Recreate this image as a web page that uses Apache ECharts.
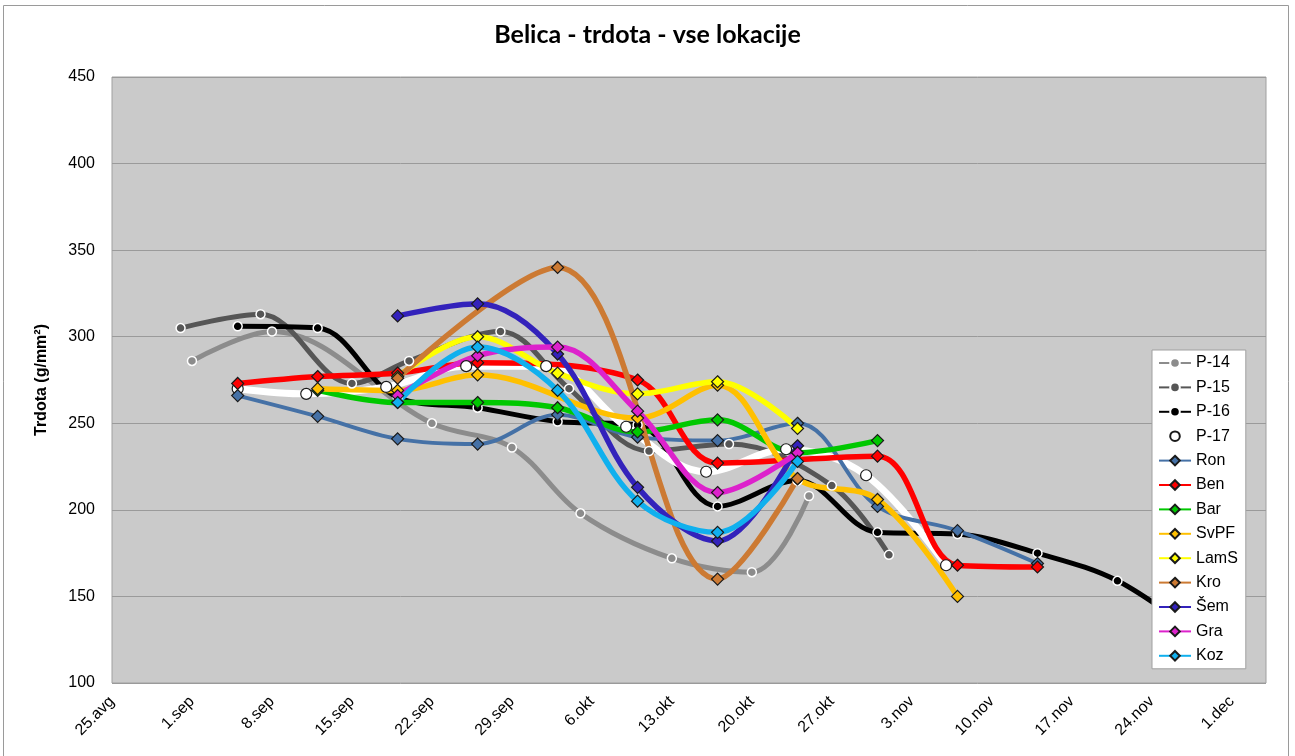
<!DOCTYPE html>
<html>
<head>
<meta charset="utf-8">
<title>Belica - trdota</title>
<script src="https://cdn.jsdelivr.net/npm/echarts/dist/echarts.min.js"></script>
<style>
  html, body { margin: 0; padding: 0; background: #fff; }
  #chart { width: 1295px; height: 756px; }
</style>
</head>
<body>
<div id="chart"></div>
<script>
// x axis: days from 25.avg, one label per week
const xTicks = ['25.avg', '1.sep', '8.sep', '15.sep', '22.sep', '29.sep', '6.okt', '13.okt',
  '20.okt', '27.okt', '3.nov', '10.nov', '17.nov', '24.nov', '1.dec'];

// sampling dates of the locations (month-day)
const weekDates = ['09-05', '09-12', '09-19', '09-26', '10-03', '10-10', '10-17', '10-24', '10-31', '11-07', '11-14'];

const ron  = [266, 254, 241, 238, 255, 242, 240, 250, 202, 188, 169];
const ben  = [273, 277, 279, 285, null, 275, 227, null, 231, 168, 167];
const bar  = [null, 269, 262, 262, 259, 245, 252, 233, 240, null, null];
const svpf = [null, 270, 269, 278, null, 253, 272, 218, 206, 150, null];
const lams = [null, null, 277, 300, 279, 267, 274, 247, null, null, null];
const kro  = [null, null, 276, null, 340, null, 160, 218, null, null, null];
const sem  = [null, null, 312, 319, 290, 213, 182, 237, null, null, null];
const gra  = [null, null, 266, 289, 294, 257, 210, 233, null, null, null];
const koz  = [null, null, 262, 294, 269, 205, 187, 228, null, null, null];

// P- series have their own dates
const p14Dates = ['09-01', '09-08', '09-22', '09-29', '10-05', '10-13', '10-20', '10-25'];
const p14 = [286, 303, 250, 236, 198, 172, 164, 208];
const p15Dates = ['08-31', '09-07', '09-15', '09-20', '09-28', '10-04', '10-11', '10-18', '10-27', '11-01'];
const p15 = [305, 313, 273, 286, 303, 270, 234, 238, 214, 174];
const p16Dates = ['09-05', '09-12', '09-19', '09-26', '10-03', '10-10', '10-17', '10-24', '10-31', '11-07', '11-14', '11-21', '11-28'];
const p16 = [306, 305, 265, 259, 251, 249, 202, 217, 187, 186, 175, 159, 128];
const p17Dates = ['09-05', '09-11', '09-18', '09-25', '10-02', '10-09', '10-16', '10-23', '10-30', '11-06'];
const p17 = [270, 267, 271, 283, 283, 248, 222, 235, 220, 168];

function day(md) {
  let [m, d] = md.split('-').map(Number);
  return (Date.UTC(2011, m - 1, d) - Date.UTC(2011, 7, 25)) / 86400000;
}
function pts(dates, vals) {
  let out = [];
  dates.forEach((d, i) => {
    if (vals[i] != null) out.push([day(d), vals[i]]);
  });
  return out;
}

function circleLine(name, color, data) {
  return {
    name: name, type: 'line', data: data, smooth: 0.35,
    symbol: 'circle', symbolSize: 9,
    lineStyle: { color: color, width: 5 },
    itemStyle: { color: color, borderColor: '#ffffff', borderWidth: 1.5 }
  };
}
function diamondLine(name, color, data, w) {
  return {
    name: name, type: 'line', data: data, smooth: 0.35,
    symbol: 'diamond', symbolSize: 12,
    lineStyle: { color: color, width: w || 5.5 },
    itemStyle: { color: color, borderColor: '#1a1a1a', borderWidth: 1.2 }
  };
}

let p17Series = circleLine('P-17', '#ffffff', pts(p17Dates, p17));
p17Series.symbolSize = 11;
p17Series.lineStyle.width = 7;
p17Series.itemStyle = { color: '#ffffff', borderColor: '#1a1a1a', borderWidth: 1.2 };

let tickDays = xTicks.map((t, i) => i * 7);

let myChart = echarts.init(document.getElementById('chart'));
let option = {
  animation: false,
  backgroundColor: '#ffffff',
  title: {
    text: 'Belica - trdota - vse lokacije',
    left: 'center', top: 17,
    textStyle: { fontFamily: 'Lato', fontWeight: 'bold', fontSize: 25, color: '#000' }
  },
  graphic: [{
    type: 'rect', silent: true,
    shape: { x: 3.5, y: 5.5, width: 1285, height: 770 },
    style: { fill: 'none', stroke: '#9a9a9a', lineWidth: 1 }
  }],
  grid: {
    left: 112, top: 77, right: 29, bottom: 73,
    show: true, backgroundColor: '#cacaca', borderColor: '#a0a0a0', borderWidth: 1
  },
  legend: {
    orient: 'vertical', left: 1152, top: 350,
    itemWidth: 32, itemHeight: 12, itemGap: 8.4,
    padding: [5, 8, 5, 6],
    backgroundColor: '#ffffff', borderColor: '#a0a0a0', borderWidth: 1,
    textStyle: { fontFamily: 'Arial, Liberation Sans', fontSize: 16, color: '#000' },
    data: ['P-14', 'P-15', 'P-16', 'P-17', 'Ron', 'Ben', 'Bar', 'SvPF', 'LamS', 'Kro', 'Šem', 'Gra', 'Koz']
  },
  xAxis: {
    type: 'value', min: 0, max: 101,
    axisLine: { show: false },
    axisTick: { show: false },
    splitLine: { show: false },
    axisLabel: {
      customValues: tickDays,
      rotate: 45, margin: 16,
      fontFamily: 'Arial, Liberation Sans', fontSize: 16, color: '#000',
      formatter: function (v) {
        return xTicks[Math.round(v / 7)] || '';
      }
    }
  },
  yAxis: {
    type: 'value', min: 100, max: 450, interval: 50,
    name: 'Trdota (g/mm²)', nameLocation: 'middle', nameGap: 62,
    nameTextStyle: { fontFamily: 'Arial, Liberation Sans', fontWeight: 'bold', fontSize: 16, color: '#000' },
    axisLine: { show: false },
    axisTick: { show: false },
    axisLabel: { margin: 17, fontFamily: 'Arial, Liberation Sans', fontSize: 16, color: '#000' },
    splitLine: { lineStyle: { color: '#9a9a9a', width: 1 } }
  },
  series: [
    circleLine('P-14', '#8c8c8c', pts(p14Dates, p14)),
    circleLine('P-15', '#565656', pts(p15Dates, p15)),
    circleLine('P-16', '#000000', pts(p16Dates, p16)),
    p17Series,
    diamondLine('Ron', '#4571a6', pts(weekDates, ron), 4),
    diamondLine('Ben', '#ff0000', pts(weekDates, ben)),
    diamondLine('Bar', '#00c800', pts(weekDates, bar)),
    diamondLine('SvPF', '#ffc000', pts(weekDates, svpf)),
    diamondLine('LamS', '#ffff00', pts(weekDates, lams)),
    diamondLine('Kro', '#cc7a33', pts(weekDates, kro)),
    diamondLine('Šem', '#3322bb', pts(weekDates, sem)),
    diamondLine('Gra', '#dd22cc', pts(weekDates, gra)),
    diamondLine('Koz', '#10b0ee', pts(weekDates, koz))
  ]
};
myChart.setOption(option);
window.onresize = function () { myChart.resize(); };
</script>
</body>
</html>
